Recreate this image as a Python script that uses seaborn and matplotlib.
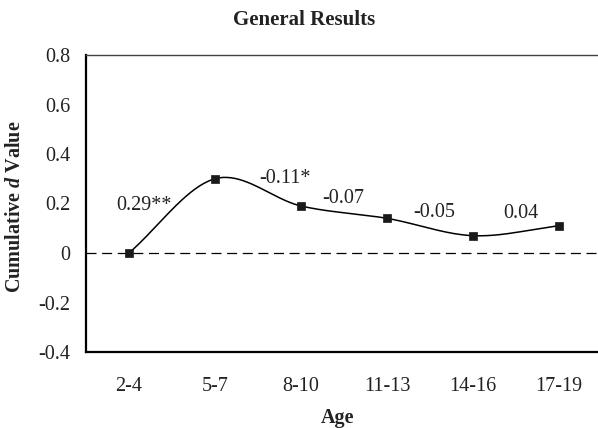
import numpy as np
import pandas as pd
import matplotlib
matplotlib.use("Agg")
import matplotlib.pyplot as plt
import matplotlib.ticker as mtick
import seaborn as sns

# -- Data -----------------------------------------------------
ages = ["2-4", "5-7", "8-10", "11-13", "14-16", "17-19"]
d_values = [0.0, 0.30, 0.19, 0.14, 0.07, 0.11]
effect_labels = ["0.29**", "-0.11*", "-0.07", "-0.05", "0.04"]
y_ticks = [-0.4, -0.2, 0.0, 0.2, 0.4, 0.6, 0.8]

# label placement (data coords), layout only
label_pos = [(0.17, 0.19), (1.81, 0.30), (2.49, 0.22), (3.55, 0.165), (4.56, 0.16)]

sns.set_theme(style="white")
plt.rcParams["font.family"] = ["Liberation Serif", "DejaVu Serif"]
plt.rcParams["axes.unicode_minus"] = False
plt.rcParams["mathtext.fontset"] = "custom"
plt.rcParams["mathtext.it"] = "Liberation Serif:bold:italic"
plt.rcParams["mathtext.rm"] = "Liberation Serif:bold"


def smooth_curve(y, n=40):
    # Catmull-Rom through the points, like Excel's "smoothed line"
    y = np.asarray(y, dtype=float)
    p = np.r_[2 * y[0] - y[1], y, 2 * y[-1] - y[-2]]
    xs, ys = [], []
    t = np.linspace(0, 1, n)
    for i in range(len(y) - 1):
        p0, p1, p2, p3 = p[i], p[i + 1], p[i + 2], p[i + 3]
        seg = 0.5 * (2 * p1 + (-p0 + p2) * t
                     + (2 * p0 - 5 * p1 + 4 * p2 - p3) * t ** 2
                     + (-p0 + 3 * p1 - 3 * p2 + p3) * t ** 3)
        xs.append(i + t)
        ys.append(seg)
    return np.concatenate(xs), np.concatenate(ys)


df = pd.DataFrame({"pos": np.arange(len(ages)), "d": d_values})
cx, cy = smooth_curve(d_values)
curve = pd.DataFrame({"x": cx, "y": cy})

fig = plt.figure(figsize=(5.98, 4.28), dpi=100)
ax = fig.add_axes([86 / 598, 1 - 352 / 428, 512 / 598, 297 / 428])

ax.axhline(0, color="black", linewidth=0.9, linestyle=(0, (8, 4.5)), zorder=1)
sns.lineplot(data=curve, x="x", y="y", sort=False, color="black",
             linewidth=1.1, ax=ax, zorder=2)
sns.scatterplot(data=df, x="pos", y="d", marker="s", s=26, color="#1a1a1a",
                edgecolor="#1a1a1a", linewidth=0.5, ax=ax, zorder=3)

for txt, (lx, ly) in zip(effect_labels, label_pos):
    ax.text(lx, ly, txt, ha="center", va="center", fontsize=14.5, color="#222222")

ax.set_xlim(-0.5, 5.453)
ax.set_ylim(-0.4, 0.8)
ax.set_xticks(df["pos"])
ax.set_xticklabels(ages)
ax.set_yticks(y_ticks)
ax.yaxis.set_major_formatter(
    mtick.FuncFormatter(lambda v, _: "0" if abs(v) < 1e-9 else f"{v:g}"))
ax.tick_params(axis="both", length=0, labelsize=14.5, colors="#222222")
ax.tick_params(axis="x", pad=18)
ax.tick_params(axis="y", pad=11)
ax.set_xlabel("")
ax.set_ylabel("")

for side in ["left", "bottom"]:
    ax.spines[side].set_color("black")
    ax.spines[side].set_linewidth(1.6)
ax.spines["top"].set_color("#444444")
ax.spines["top"].set_linewidth(1.0)
ax.spines["right"].set_visible(False)

fig.text(304 / 598, 1 - 20 / 428, "General Results", ha="center", va="center",
         fontsize=15, fontweight="bold", color="#222222")
fig.text(338 / 598, 1 - 423 / 428, "Age", ha="center", va="baseline",
         fontsize=14.5, fontweight="bold", color="#222222")
fig.text(15 / 598, 1 - 207 / 428, r"Cumulative $d$ Value", ha="center",
         va="center", rotation=90, fontsize=14.5, fontweight="bold", color="#222222")

fig.savefig("out.png", dpi=100)
